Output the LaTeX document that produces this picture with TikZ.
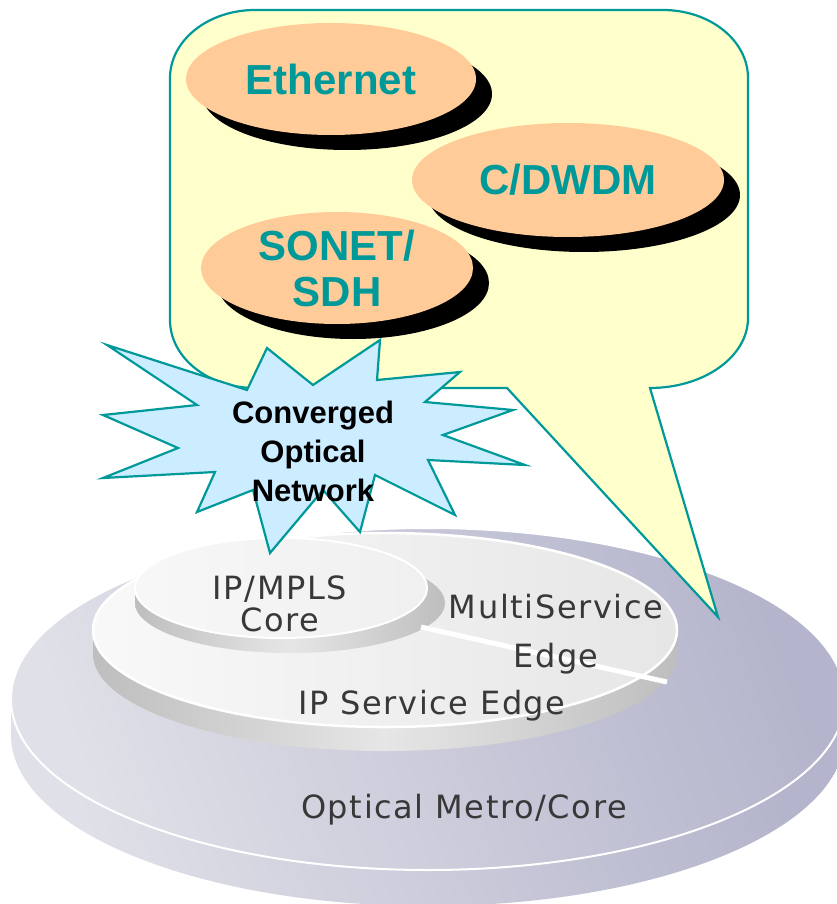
\documentclass[tikz,border=0pt]{standalone}
\usepackage{fontspec}
\setmainfont{Liberation Sans}
\newfontfamily\discfont[LetterSpace=5]{DejaVu Sans}
\usetikzlibrary{shapes.geometric,shadows}

\definecolor{calloutline}{HTML}{009999}
\definecolor{calloutfill}{HTML}{FFFFCC}
\definecolor{peach}{HTML}{FFCC99}
\definecolor{burstfill}{HTML}{CCECFF}
\definecolor{disctext}{HTML}{383838}
\definecolor{metroL}{HTML}{E0E0E8}
\definecolor{metroR}{HTML}{B4B4CC}
\definecolor{ringside}{HTML}{BEBEBE}
\definecolor{ringmid}{HTML}{E6E6E6}

\tikzset{
  disclabel/.style={font=\discfont\fontsize{32}{36}\selectfont, text=disctext, inner sep=0pt},
  pill/.style={ellipse, fill=peach, inner sep=0pt, text=calloutline,
    font=\bfseries\fontsize{42}{46}\selectfont, align=center,
    drop shadow={shadow xshift=16pt, shadow yshift=-15pt, fill=black, opacity=1}},
  burstlabel/.style={font=\bfseries\fontsize{31}{39}\selectfont, align=center, inner sep=0pt},
  rim/.style={draw=white, line width=2pt}
}

\begin{document}
\begin{tikzpicture}[x=1pt,y=1pt]
\useasboundingbox (0,0) rectangle (836,-904);
\fill[white] (0,0) rectangle (836,-904);

% ---- Optical Metro/Core base disc ----
\shade[left color=metroL, right color=metroR, shading angle=110]
  (11,-699) -- (11,-735) arc[start angle=180, end angle=360, x radius=417, y radius=171]
  -- (845,-699) -- cycle;
\shade[left color=metroL, right color=metroR, shading angle=110, rim]
  (428,-699) ellipse[x radius=417, y radius=171];

% ---- IP Service Edge disc ----
\shade[left color=ringside, right color=ringside, middle color=ringmid]
  (93,-630) -- (93,-654) arc[start angle=180, end angle=360, x radius=292, y radius=97]
  -- (677,-630) -- cycle;
\shade[left color=white!95!gray, right color=ringmid, rim, line width=2.5pt]
  (385,-630) ellipse[x radius=292, y radius=97];

% ---- IP/MPLS Core disc ----
\shade[left color=ringside, right color=ringside, middle color=ringmid]
  (290,-603) ellipse[x radius=155, y radius=50];
\fill[ringside] (135,-588) rectangle (145,-603);
\shade[left color=white!94!gray, right color=white!88!gray, rim]
  (281,-588) ellipse[x radius=146, y radius=50];

% divider between the two service areas
\coordinate (divA) at (421,-627);
\coordinate (divB) at (667,-682);
\draw[white, line width=5pt] (divA) -- (divB);

% ---- disc labels ----
\node[disclabel] (core1) at (280,-589) {IP/MPLS};
\node[disclabel] (core2) at (280,-620) {Core};
\node[disclabel] (ms1) at (556,-607) {MultiService};
\node[disclabel] (ms2) at (556,-659) {Edge};
\node[disclabel] (ipse) at (432,-706) {IP Service Edge};
\node[disclabel] (metro) at (464,-810) {Optical Metro/Core};

% ---- speech callout ----
\filldraw[fill=calloutfill, draw=calloutline, line width=2.2pt, line join=miter]
  (507,-388) -- (718,-617) -- (650,-388)
  arc[start angle=270, end angle=360, x radius=98, y radius=70]
  -- (748,-78) arc[start angle=0, end angle=90, x radius=85, y radius=68]
  -- (255,-10) arc[start angle=90, end angle=180, x radius=85, y radius=68]
  -- (170,-320) arc[start angle=180, end angle=270, x radius=85, y radius=68]
  -- cycle;

% ---- burst ----
\filldraw[fill=burstfill, draw=calloutline, line width=2.2pt, line join=miter]
  (107,-345) -- (247,-390) -- (267,-348) -- (313,-385) -- (380,-340)
  -- (377,-380) -- (460,-372) -- (425,-402) -- (513,-410) -- (443,-435)
  -- (525,-465) -- (428,-460) -- (455,-515) -- (375,-475) -- (360,-532)
  -- (323,-490) -- (270,-553) -- (253,-490) -- (197,-512) -- (215,-472)
  -- (103,-478) -- (178,-448) -- (103,-415) -- (197,-405) -- cycle;

% ---- technology ellipses ----
\node[pill, minimum width=290pt, minimum height=112pt] (eth) at (331,-79) {Ethernet};
\node[pill, minimum width=312pt, minimum height=114pt] (dwdm) at (568,-180) {C/DWDM};
\node[pill, minimum width=272pt, minimum height=112pt] (sonet) at (337,-268) {SONET/\\SDH};

\node[burstlabel] (burst) at (313,-451) {Converged\\Optical\\Network};
\end{tikzpicture}
\end{document}
